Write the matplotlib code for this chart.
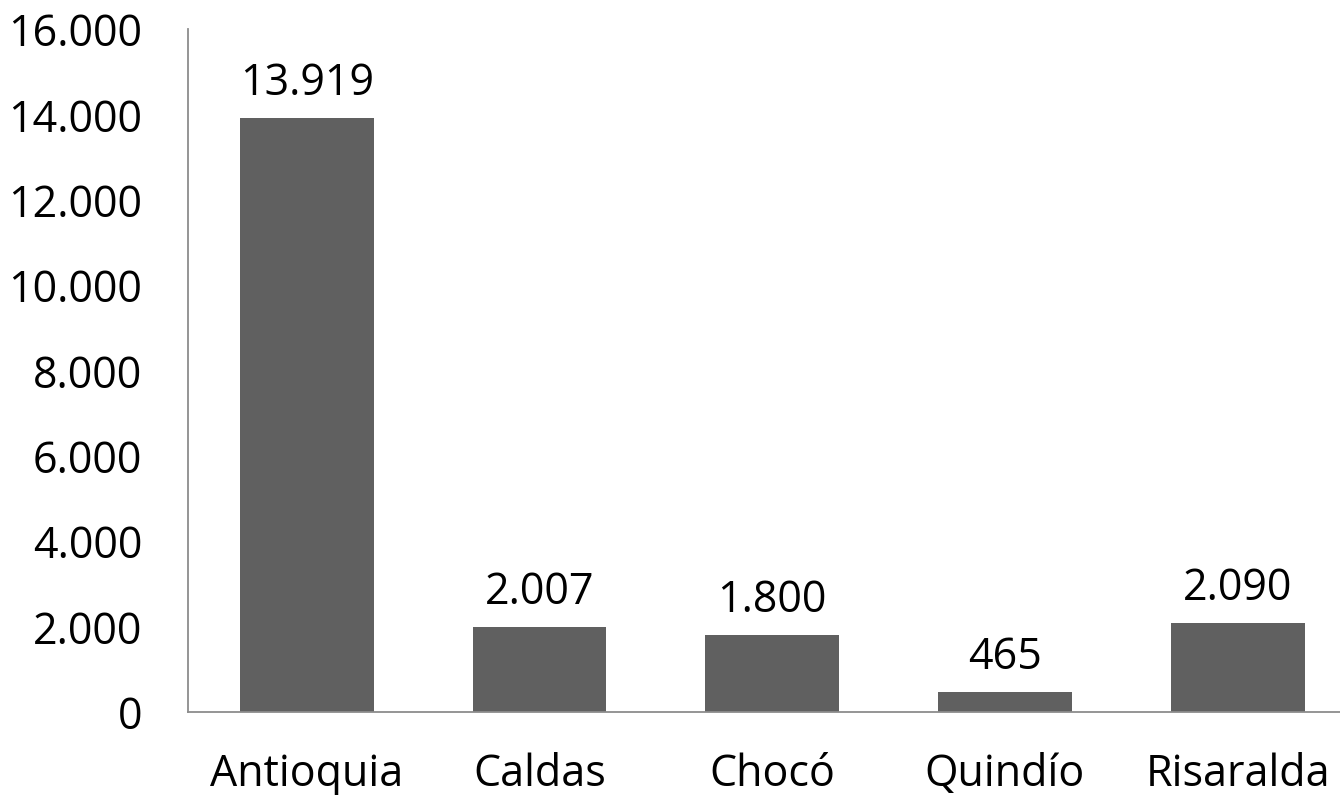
import matplotlib
matplotlib.use('Agg')
import matplotlib.pyplot as plt
from matplotlib.ticker import FuncFormatter

departamentos = ['Antioquia', 'Caldas', 'Chocó', 'Quindío', 'Risaralda']
valores = [13919, 2007, 1800, 465, 2090]
yticks = [0, 2000, 4000, 6000, 8000, 10000, 12000, 14000, 16000]

def miles(v, pos=None):
    # separador de miles con punto
    return '{:,.0f}'.format(v).replace(',', '.')

plt.rcParams['font.family'] = ['Open Sans', 'DejaVu Sans']

fig = plt.figure(figsize=(13.4, 7.95), dpi=100)
ax = fig.add_axes([0.1405, 0.104, 0.8595, 0.859])

x = range(len(departamentos))
bars = ax.bar(x, valores, width=0.575, color='#606060')

for b, v in zip(bars, valores):
    ax.text(b.get_x() + b.get_width() / 2, v + 540, miles(v),
            ha='center', va='baseline', fontsize=31, color='black')

ax.set_xlim(-0.51, 4.44)
ax.set_ylim(0, 16000)
ax.set_yticks(yticks)
ax.yaxis.set_major_formatter(FuncFormatter(miles))
ax.set_xticks(list(x))
ax.set_xticklabels(departamentos)
ax.tick_params(axis='both', length=0, labelsize=31, colors='black')
ax.tick_params(axis='y', pad=33)
ax.tick_params(axis='x', pad=29)

for s in ['top', 'right']:
    ax.spines[s].set_visible(False)
ax.spines['left'].set_color('#8c8c8c')
ax.spines['bottom'].set_color('#8c8c8c')
ax.spines['left'].set_linewidth(1.3)
ax.spines['bottom'].set_linewidth(1.3)

plt.savefig('out.png', dpi=100)
